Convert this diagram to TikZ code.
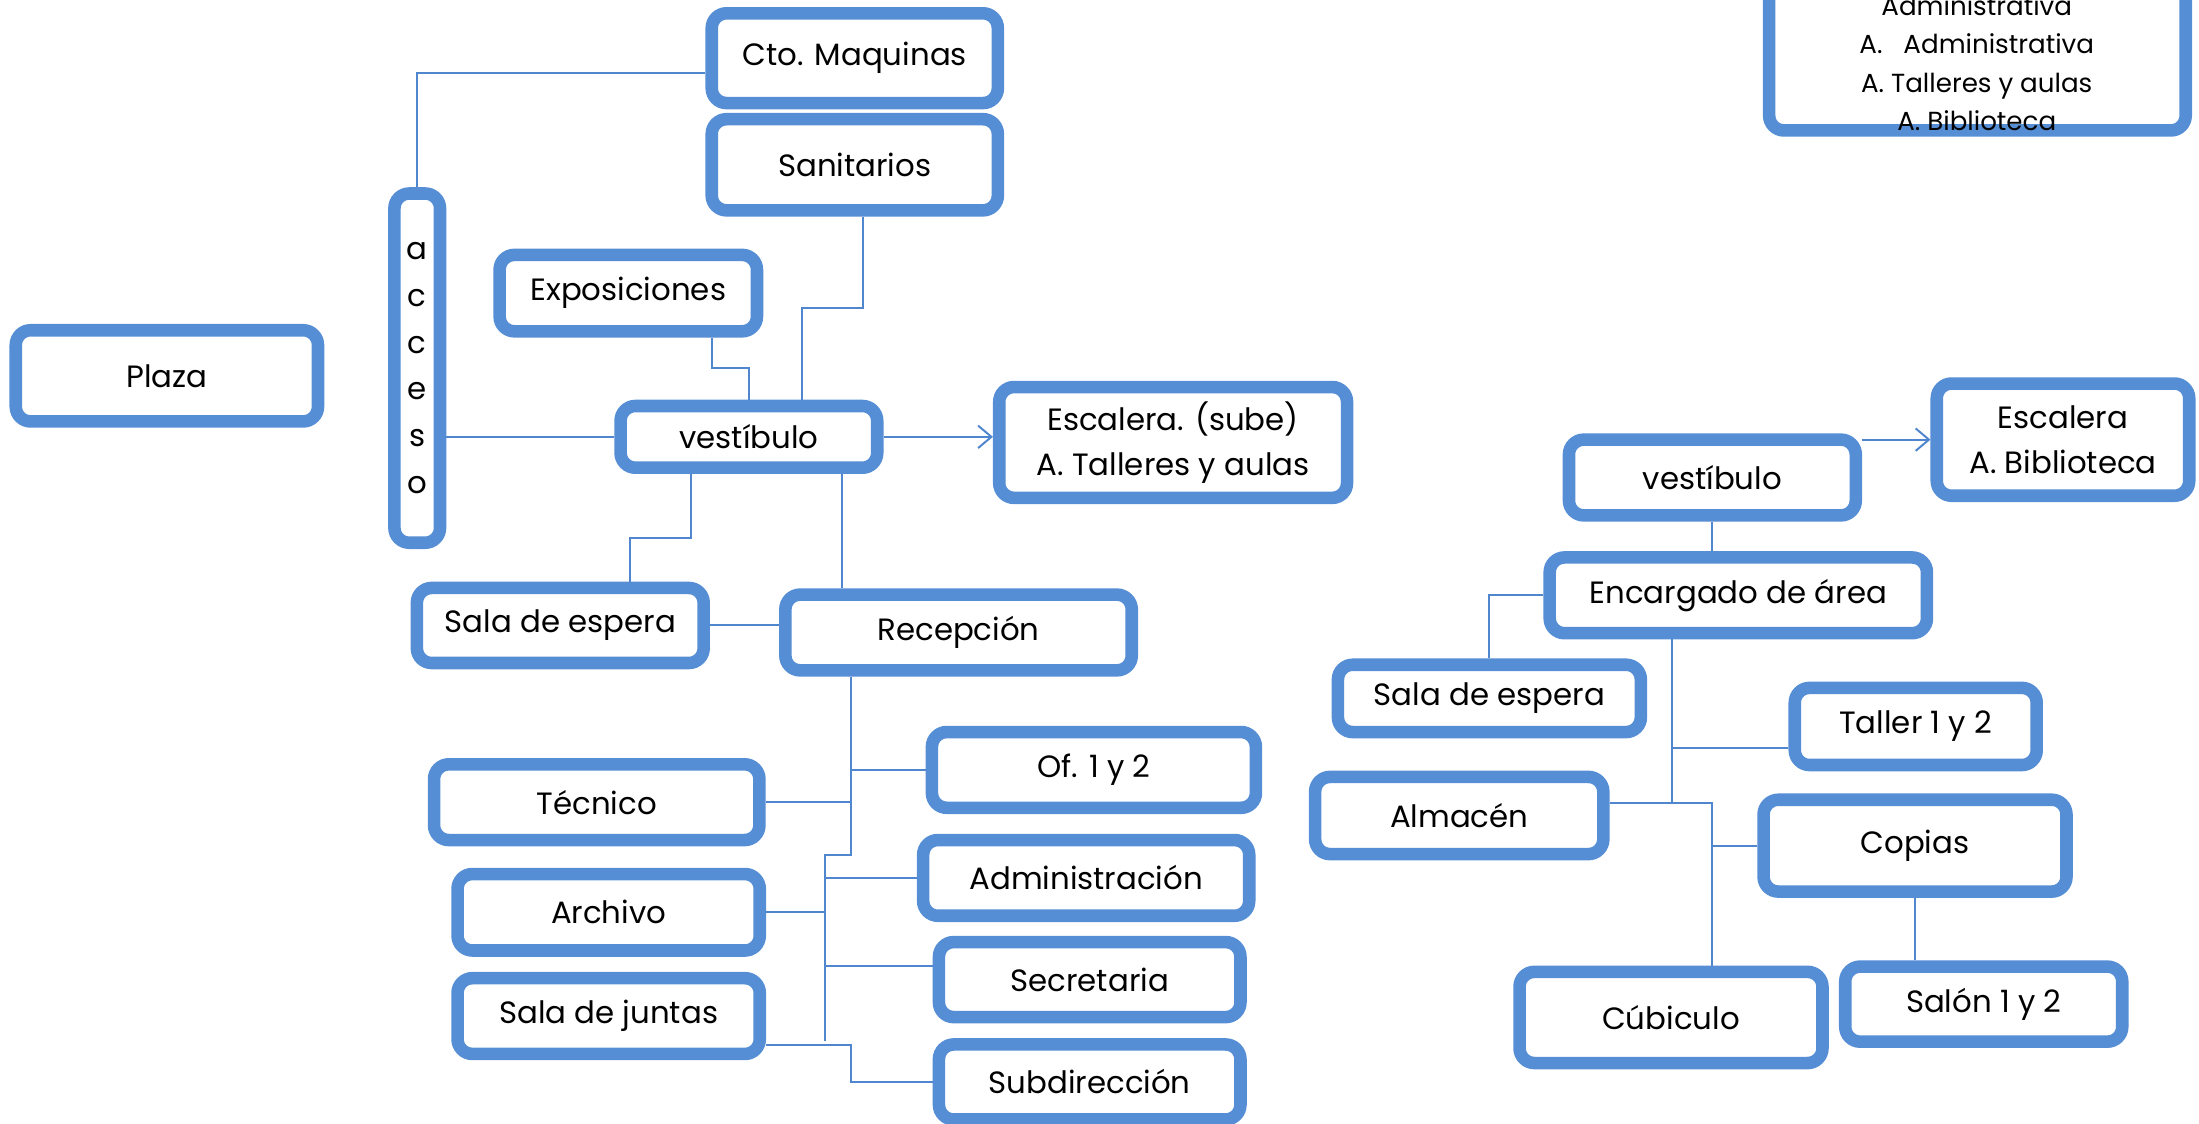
\documentclass[tikz,border=0pt]{standalone}
\usepackage{fontspec}
\setmainfont{Poppins}
\usetikzlibrary{arrows.meta}
\definecolor{boxblue}{RGB}{85,142,213}
\definecolor{lineblue}{RGB}{79,134,206}

\begin{document}
\begin{tikzpicture}[
  box/.style={
    rectangle, draw=boxblue, fill=white, line width=5.1pt,
    rounded corners=6pt, inner sep=1pt, align=center,
    font=\fontsize{12.5}{18}\selectfont
  },
  link/.style={draw=lineblue, line width=0.8pt},
  arrow/.style={-{Straight Barb[length=1.9mm,width=3.2mm]}, draw=lineblue, line width=0.8pt}
]
  \useasboundingbox (0,0) rectangle (31.36,16.02);

  % planta baja
  \node[box, minimum width=4.08cm, minimum height=1.28cm] (cto) at (12.19,15.19) {Cto. Maquinas};
  \node[box, minimum width=4.08cm, minimum height=1.30cm] (san) at (12.19,13.67) {Sanitarios};
  \node[box, minimum width=0.65cm, minimum height=4.98cm, font=\fontsize{12.5}{19}\selectfont] (acceso) at (5.95,10.77) {a\\c\\c\\e\\s\\o};
  \node[box, minimum width=4.31cm, minimum height=1.30cm] (plaza) at (2.38,10.66) {Plaza};
  \node[box, minimum width=3.67cm, minimum height=1.09cm] (expo) at (8.96,11.84) {Exposiciones};
  \node[box, minimum width=3.66cm, minimum height=0.88cm] (vestL) at (10.68,9.79) {vestíbulo};
  \node[box, minimum width=4.96cm, minimum height=1.58cm] (escL) at (16.73,9.71) {Escalera. (sube)\\A. Talleres y aulas};
  \node[box, minimum width=4.09cm, minimum height=1.07cm] (salaL) at (7.99,7.10) {Sala de espera};
  \node[box, minimum width=4.94cm, minimum height=1.08cm] (recep) at (13.67,7.00) {Recepción};
  \node[box, minimum width=4.62cm, minimum height=1.08cm] (of) at (15.60,5.04) {Of. 1 y 2};
  \node[box, minimum width=4.64cm, minimum height=1.08cm] (tec) at (8.51,4.58) {Técnico};
  \node[box, minimum width=4.65cm, minimum height=1.08cm] (admin) at (15.49,3.50) {Administración};
  \node[box, minimum width=4.31cm, minimum height=1.09cm] (arch) at (8.68,3.01) {Archivo};
  \node[box, minimum width=4.30cm, minimum height=1.07cm] (secr) at (15.54,2.05) {Secretaria};
  \node[box, minimum width=4.31cm, minimum height=1.08cm] (juntas) at (8.68,1.53) {Sala de juntas};
  \node[box, minimum width=4.30cm, minimum height=1.07cm] (subd) at (15.54,0.59) {Subdirección};

  % planta alta
  \node[box, minimum width=5.94cm, minimum height=3.5cm, anchor=south] (areasbox) at (28.20,14.07) {};
  \node[align=center, font=\fontsize{10.6}{15.6}\selectfont] (areas) at (28.19,15.12)
    {Administrativa\\A.\ \ \ Administrativa\\A. Talleres y aulas\\A. Biblioteca};
  \node[box, minimum width=4.09cm, minimum height=1.08cm] (vestR) at (24.42,9.21) {vestíbulo};
  \node[box, minimum width=3.60cm, minimum height=1.60cm] (escR) at (29.42,9.75) {Escalera\\A. Biblioteca};
  \node[box, minimum width=5.38cm, minimum height=1.08cm] (enc) at (24.79,7.53) {Encargado de área};
  \node[box, minimum width=4.32cm, minimum height=0.96cm] (salaR) at (21.24,6.06) {Sala de espera};
  \node[box, minimum width=3.45cm, minimum height=1.10cm] (taller) at (27.32,5.66) {Taller 1 y 2};
  \node[box, minimum width=4.11cm, minimum height=1.10cm] (alm) at (20.81,4.39) {Almacén};
  \node[box, minimum width=4.32cm, minimum height=1.31cm] (cop) at (27.31,3.96) {Copias};
  \node[box, minimum width=4.32cm, minimum height=1.30cm] (cub) at (23.83,1.51) {Cúbiculo};
  \node[box, minimum width=3.95cm, minimum height=1.07cm] (salon) at (28.29,1.70) {Salón 1 y 2};

  % conexiones planta baja
  \draw[link] ([yshift=-0.21cm]cto.west) -| (acceso.north);
  \draw[link] ([xshift=0.12cm]san.south) -- ++(0,-1.30) -| ([xshift=0.76cm]vestL.north);
  \draw[link] ([xshift=1.19cm]expo.south) -- ++(0,-0.44) -| (vestL.north);
  \draw[link] (acceso.east |- vestL.west) -- (vestL.west);
  \draw[arrow] (vestL.east) -- (escL.west |- vestL.east);
  \draw[link] ([xshift=-0.83cm]vestL.south) -- ++(0,-0.91) -| ([xshift=0.99cm]salaL.north);
  \draw[link] ([xshift=1.33cm]vestL.south) -- ([xshift=1.33cm]vestL.south |- recep.north);
  \draw[link] (salaL.east) -- (recep.west |- salaL.east);

  \coordinate (t1) at ([xshift=-1.54cm]recep.south);
  \coordinate (t2) at (11.76,3.82);
  \draw[link] (t1) |- (t2) -- (t2 |- 0,1.18);
  \draw[link] (of.west) -- (of.west -| t1);
  \draw[link] (tec.east) -- (tec.east -| t1);
  \draw[link] (admin.west) -- (admin.west -| t2);
  \draw[link] (arch.east) -- (arch.east -| t2);
  \draw[link] ([yshift=0.19cm]secr.west) -- ([yshift=0.19cm]secr.west -| t2);
  \draw[link] ([yshift=-0.41cm]juntas.east) -| (t1 |- subd.west) -- (subd.west);

  % conexiones planta alta
  \draw[arrow] (vestR.east |- escR.west) -- (escR.west);
  \draw[link] (vestR.south) -- (vestR.south |- enc.north);
  \draw[link] (enc.west) -| (salaR.north);
  \coordinate (e1) at ([xshift=-0.95cm]enc.south);
  \coordinate (c1) at ([xshift=0.59cm]cub.north);
  \coordinate (tl) at ([yshift=-0.31cm]taller.west);
  \draw[link] (e1) -- ([yshift=0.18cm]e1 |- alm.east);
  \draw[link] ([yshift=0.18cm]alm.east) -| (c1);
  \draw[link] (tl) -- (tl -| e1);
  \draw[link] (cop.west) -- (cop.west -| c1);
  \draw[link] (cop.south) -- (cop.south |- salon.north);
\end{tikzpicture}
\end{document}
